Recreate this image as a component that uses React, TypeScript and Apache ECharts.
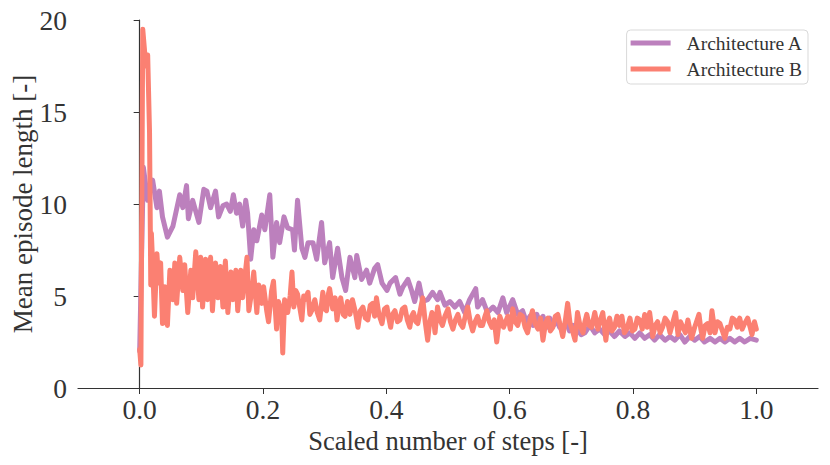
import React, { useEffect, useRef } from "react";
import * as echarts from "echarts";

const seriesNames = ["Architecture A", "Architecture B"];
const xTicks = [0, 0.2, 0.4, 0.6, 0.8, 1.0];
const yTicks = [0, 5, 10, 15, 20];

// [scaled number of steps, mean episode length]
const pointsA: number[][] = [
  [0.0, 2.0], [0.006, 12.0], [0.013, 10.2], [0.021, 11.3], [0.028, 9.8], [0.032, 10.7], [0.037, 9.3],
  [0.045, 8.2], [0.054, 8.8], [0.065, 10.5], [0.07, 9.8], [0.076, 11.0], [0.079, 9.2], [0.086, 10.2],
  [0.096, 9.0], [0.104, 10.8], [0.109, 10.7], [0.115, 9.8], [0.123, 10.7], [0.128, 9.3], [0.135, 9.9],
  [0.141, 10.0], [0.147, 9.6], [0.152, 10.5], [0.157, 9.5], [0.162, 10.0], [0.167, 8.8], [0.172, 10.2],
  [0.175, 9.5], [0.18, 7.0], [0.185, 8.6], [0.19, 8.0], [0.198, 9.4], [0.203, 8.6], [0.211, 10.5],
  [0.216, 7.1], [0.222, 9.0], [0.227, 7.9], [0.234, 9.3], [0.24, 8.7], [0.248, 8.6], [0.251, 7.5],
  [0.256, 10.2], [0.263, 7.6], [0.268, 7.1], [0.273, 7.9], [0.281, 7.9], [0.287, 7.0], [0.295, 9.0],
  [0.3, 6.8], [0.308, 7.9], [0.313, 6.0], [0.321, 7.6], [0.328, 6.0], [0.334, 5.3], [0.341, 7.1],
  [0.349, 6.0], [0.352, 7.2], [0.36, 5.9], [0.368, 6.4], [0.373, 5.7], [0.381, 6.5], [0.386, 6.7],
  [0.393, 5.7], [0.401, 5.3], [0.406, 5.7], [0.415, 6.0], [0.422, 5.1], [0.427, 5.5], [0.435, 5.9],
  [0.441, 5.3], [0.446, 4.7], [0.453, 5.7], [0.459, 4.7], [0.467, 4.8], [0.475, 5.2], [0.483, 4.8],
  [0.487, 5.2], [0.495, 4.5], [0.503, 4.7], [0.511, 4.4], [0.519, 4.7], [0.527, 4.1], [0.535, 4.8],
  [0.545, 5.4], [0.548, 4.4], [0.556, 4.8], [0.564, 4.1], [0.573, 4.4], [0.581, 4.1], [0.589, 4.9],
  [0.595, 4.1], [0.605, 4.8], [0.613, 4.0], [0.621, 4.2], [0.627, 3.6], [0.633, 3.9], [0.638, 3.4],
  [0.644, 4.0], [0.649, 3.5], [0.654, 3.9], [0.66, 3.3], [0.665, 3.8], [0.671, 3.4], [0.676, 3.7],
  [0.681, 3.3], [0.686, 3.2], [0.692, 3.6], [0.697, 3.1], [0.703, 3.4], [0.709, 3.2], [0.716, 2.9],
  [0.722, 3.0], [0.73, 3.4], [0.738, 3.0], [0.746, 3.2], [0.754, 2.9], [0.762, 3.1], [0.77, 2.8],
  [0.778, 3.1], [0.787, 2.8], [0.795, 3.0], [0.803, 2.7], [0.811, 3.0], [0.819, 2.7], [0.827, 2.9],
  [0.835, 2.6], [0.843, 2.9], [0.852, 2.6], [0.86, 2.8], [0.868, 2.6], [0.876, 2.9], [0.884, 2.5],
  [0.892, 2.8], [0.9, 2.6], [0.908, 2.8], [0.916, 2.5], [0.925, 2.7], [0.933, 2.5], [0.941, 2.7],
  [0.949, 2.5], [0.957, 2.7], [0.965, 2.5], [0.973, 2.7], [0.981, 2.5], [0.99, 2.7], [1.0, 2.6],
];

const pointsB: number[][] = [
  [0.0, 2.1], [0.002, 1.25], [0.005, 19.5], [0.01, 17.5], [0.013, 18.1], [0.016, 13.9], [0.018, 5.6],
  [0.019, 8.4], [0.021, 6.8], [0.024, 3.9], [0.028, 7.3], [0.031, 5.7], [0.034, 6.8], [0.037, 3.5],
  [0.041, 5.5], [0.045, 3.4], [0.049, 6.4], [0.054, 4.8], [0.057, 6.8], [0.06, 4.6], [0.065, 7.1],
  [0.07, 5.3], [0.073, 6.7], [0.078, 4.1], [0.083, 6.4], [0.086, 4.9], [0.091, 7.4], [0.096, 4.8],
  [0.099, 7.1], [0.102, 4.4], [0.107, 7.0], [0.11, 4.8], [0.115, 7.1], [0.118, 4.2], [0.123, 6.8],
  [0.127, 4.9], [0.131, 6.6], [0.135, 4.4], [0.139, 6.9], [0.143, 4.1], [0.148, 6.3], [0.151, 4.8],
  [0.156, 6.4], [0.159, 4.2], [0.164, 6.4], [0.167, 4.9], [0.174, 7.1], [0.177, 4.2], [0.182, 5.3],
  [0.185, 6.3], [0.19, 4.1], [0.193, 5.6], [0.198, 4.6], [0.201, 5.5], [0.206, 4.2], [0.209, 3.6],
  [0.214, 5.3], [0.217, 5.8], [0.222, 3.2], [0.225, 4.7], [0.23, 4.2], [0.232, 1.9], [0.235, 4.8],
  [0.24, 4.1], [0.244, 5.0], [0.247, 6.3], [0.25, 4.4], [0.253, 5.3], [0.256, 5.1], [0.26, 4.3],
  [0.263, 3.7], [0.266, 5.0], [0.268, 4.8], [0.273, 5.2], [0.276, 4.0], [0.279, 4.2], [0.284, 4.8],
  [0.288, 4.1], [0.292, 3.7], [0.297, 5.2], [0.3, 4.3], [0.303, 4.2], [0.306, 5.1], [0.308, 5.4],
  [0.313, 4.3], [0.317, 4.9], [0.32, 3.7], [0.323, 4.5], [0.326, 4.9], [0.33, 4.0], [0.333, 3.9],
  [0.337, 4.7], [0.341, 4.0], [0.345, 4.8], [0.35, 4.1], [0.354, 3.3], [0.358, 4.2], [0.362, 4.4],
  [0.366, 3.8], [0.37, 3.7], [0.374, 4.5], [0.378, 4.6], [0.381, 3.9], [0.384, 4.9], [0.388, 4.0],
  [0.393, 3.5], [0.397, 4.3], [0.401, 4.4], [0.404, 3.8], [0.407, 3.3], [0.41, 4.0], [0.414, 4.2],
  [0.418, 3.6], [0.422, 3.7], [0.426, 4.3], [0.43, 4.4], [0.434, 3.7], [0.438, 3.3], [0.441, 3.9],
  [0.444, 4.1], [0.448, 3.6], [0.451, 3.5], [0.455, 4.2], [0.459, 4.9], [0.463, 3.6], [0.467, 2.6],
  [0.47, 3.5], [0.474, 4.1], [0.477, 3.6], [0.479, 3.0], [0.483, 4.4], [0.487, 3.7], [0.491, 3.4],
  [0.495, 3.9], [0.5, 4.3], [0.504, 3.6], [0.508, 3.2], [0.512, 3.7], [0.516, 4.0], [0.52, 3.5],
  [0.524, 3.3], [0.528, 3.9], [0.532, 4.4], [0.536, 3.6], [0.54, 3.1], [0.544, 3.6], [0.548, 3.9],
  [0.552, 3.4], [0.556, 3.4], [0.56, 3.9], [0.563, 4.2], [0.567, 3.6], [0.571, 3.3], [0.575, 3.7],
  [0.579, 2.5], [0.584, 3.9], [0.59, 3.3], [0.597, 3.9], [0.601, 3.2], [0.605, 4.3], [0.609, 3.6],
  [0.613, 3.4], [0.617, 4.0], [0.621, 3.9], [0.625, 3.3], [0.629, 3.0], [0.633, 3.7], [0.637, 4.2],
  [0.641, 3.5], [0.646, 3.2], [0.65, 3.8], [0.654, 2.6], [0.658, 3.5], [0.662, 3.8], [0.666, 3.1],
  [0.67, 3.3], [0.674, 3.9], [0.678, 4.0], [0.682, 3.4], [0.686, 2.8], [0.69, 3.6], [0.694, 4.6],
  [0.698, 3.5], [0.701, 3.2], [0.706, 2.6], [0.71, 4.1], [0.714, 3.4], [0.719, 3.0], [0.722, 3.6],
  [0.725, 4.0], [0.729, 3.4], [0.733, 3.3], [0.738, 4.1], [0.743, 3.2], [0.747, 3.7], [0.751, 4.1],
  [0.756, 2.6], [0.759, 3.5], [0.762, 3.8], [0.766, 3.1], [0.77, 3.3], [0.774, 3.9], [0.778, 3.4],
  [0.782, 3.9], [0.786, 3.0], [0.79, 3.2], [0.795, 3.8], [0.799, 3.1], [0.803, 3.2], [0.807, 3.8],
  [0.811, 3.7], [0.815, 3.2], [0.819, 4.0], [0.823, 3.3], [0.827, 4.1], [0.832, 2.8], [0.836, 3.4],
  [0.84, 3.6], [0.844, 3.0], [0.848, 3.3], [0.852, 3.8], [0.856, 3.6], [0.86, 3.0], [0.864, 3.5],
  [0.869, 4.1], [0.873, 2.9], [0.877, 3.6], [0.881, 3.3], [0.885, 3.0], [0.889, 3.7], [0.895, 2.7],
  [0.9, 3.3], [0.903, 3.6], [0.907, 4.0], [0.91, 3.2], [0.913, 2.7], [0.917, 3.4], [0.921, 3.5],
  [0.925, 3.0], [0.928, 4.2], [0.933, 3.0], [0.937, 3.6], [0.941, 3.5], [0.945, 3.1], [0.949, 2.7],
  [0.953, 3.3], [0.957, 3.2], [0.961, 3.8], [0.965, 3.7], [0.969, 3.3], [0.973, 3.8], [0.977, 3.2],
  [0.981, 3.5], [0.986, 3.8], [0.99, 3.3], [0.993, 2.9], [0.997, 3.6], [1.0, 3.2],
];

const colorA = "#bc80bd";
const colorB = "#fb8072";
const FONT = "'Liberation Serif', 'DejaVu Serif', serif";
const TEXT = "#333333";

export default function App() {
  const ref = useRef<HTMLDivElement>(null);
  useEffect(() => {
    if (!ref.current) return;
    const chart = echarts.init(ref.current, null, { renderer: "svg" });
    chart.setOption({
      animation: false,
      backgroundColor: "#ffffff",
      textStyle: { fontFamily: FONT },
      grid: {
        left: 78,
        right: 12,
        top: 20,
        bottom: 77,
        containLabel: false,
        outerBoundsMode: "none",
      },
      legend: {
        data: seriesNames,
        right: 22,
        top: 30,
        orient: "vertical",
        icon: "rect",
        itemWidth: 40,
        itemHeight: 5,
        itemGap: 6,
        padding: [3, 5, 5, 4],
        borderColor: "#d9d9d9",
        borderWidth: 1,
        borderRadius: 4,
        backgroundColor: "rgba(255,255,255,0.8)",
        textStyle: { fontFamily: FONT, fontSize: 19.5, color: TEXT, padding: [0, 0, 0, 11] },
      },
      xAxis: {
        type: "value",
        min: -0.1,
        max: 1.1,
        name: "Scaled number of steps [-]",
        nameLocation: "middle",
        nameGap: 35,
        nameTextStyle: { fontFamily: FONT, fontSize: 26.5, color: TEXT },
        axisLine: { show: true, onZero: false, lineStyle: { color: "#333", width: 1.2 } },
        axisTick: { show: true, length: 6, customValues: xTicks, lineStyle: { color: "#333" } },
        axisLabel: {
          customValues: xTicks,
          formatter: (v: number) => v.toFixed(1),
          fontFamily: FONT,
          fontSize: 27.5,
          color: TEXT,
          margin: 7,
        },
        splitLine: { show: false },
      },
      yAxis: {
        type: "value",
        min: 0,
        max: 20,
        interval: 5,
        name: "Mean episode length [-]",
        nameLocation: "middle",
        nameGap: 42,
        nameMoveOverlap: false,
        nameTextStyle: { fontFamily: FONT, fontSize: 27, color: TEXT },
        axisLine: { show: true, lineStyle: { color: "#333", width: 1.2 } },
        axisTick: { show: true, length: 6, lineStyle: { color: "#333" } },
        axisLabel: {
          formatter: (v: number) => (yTicks.includes(v) ? String(v) : ""),
          fontFamily: FONT,
          fontSize: 27.5,
          color: TEXT,
          margin: 11,
        },
        splitLine: { show: false },
      },
      series: [
        {
          name: seriesNames[0],
          type: "line",
          data: pointsA,
          showSymbol: false,
          symbol: "none",
          lineStyle: { color: colorA, width: 5, cap: "round", join: "round" },
          itemStyle: { color: colorA },
          z: 2,
        },
        {
          name: seriesNames[1],
          type: "line",
          data: pointsB,
          showSymbol: false,
          symbol: "none",
          lineStyle: { color: colorB, width: 5, cap: "round", join: "round" },
          itemStyle: { color: colorB },
          z: 3,
        },
      ],
    });
    return () => chart.dispose();
  }, []);
  return (
    <div
      ref={ref}
      style={{ position: "absolute", left: 0, top: 0, width: 830, height: 465 }}
    />
  );
}
